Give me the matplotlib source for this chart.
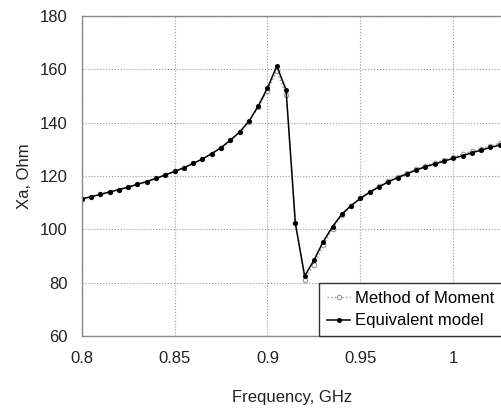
import numpy as np
import matplotlib.pyplot as plt

plt.rcParams['font.family'] = ['Liberation Sans', 'DejaVu Sans']

# frequency points, GHz
freq = [0.800, 0.805, 0.810, 0.815, 0.820, 0.825, 0.830, 0.835, 0.840, 0.845,
        0.850, 0.855, 0.860, 0.865, 0.870, 0.875, 0.880, 0.885, 0.890, 0.895,
        0.900, 0.905, 0.910, 0.915, 0.920, 0.925, 0.930, 0.935, 0.940, 0.945,
        0.950, 0.955, 0.960, 0.965, 0.970, 0.975, 0.980, 0.985, 0.990, 0.995,
        1.000, 1.005, 1.010, 1.015, 1.020, 1.025]

# equivalent model
xa_eq = [111.4, 112.2, 113.1, 114.0, 114.9, 115.8, 116.9, 117.9, 119.1, 120.4,
         121.7, 123.1, 124.7, 126.4, 128.4, 130.6, 133.4, 136.5, 140.5, 146.2,
         153.0, 161.2, 152.3, 102.2, 82.5, 88.4, 95.4, 101.0, 105.7, 108.9,
         111.6, 113.9, 115.9, 117.8, 119.4, 120.8, 122.2, 123.5, 124.5, 125.6,
         126.6, 127.6, 128.7, 129.7, 130.7, 131.6]

# method of moment
xa_mom = [111.4, 112.2, 113.1, 114.0, 114.9, 115.8, 116.9, 117.9, 119.1, 120.4,
          121.7, 123.1, 124.7, 126.4, 128.4, 130.6, 133.4, 136.5, 140.4, 145.8,
          152.0, 159.2, 150.5, 102.5, 81.0, 86.6, 94.0, 100.3, 105.3, 108.7,
          111.7, 114.1, 116.2, 118.1, 119.7, 121.2, 122.6, 123.9, 125.0, 126.1,
          127.1, 128.2, 129.3, 130.3, 131.3, 132.3]

fig = plt.figure(figsize=(5.02, 4.09), dpi=100)
ax = fig.add_axes([0.1627, 0.1785, 0.8373, 0.7824])

ax.plot(freq, xa_mom, color='#999999', linestyle=':', linewidth=1.0,
        marker='o', markersize=3.2, markerfacecolor='white',
        markeredgecolor='#999999', markeredgewidth=0.8, label='Method of Moment')
ax.plot(freq, xa_eq, color='black', linestyle='-', linewidth=1.1,
        marker='o', markersize=2.6, markerfacecolor='black',
        markeredgecolor='black', label='Equivalent model')

ax.set_xlim(0.8, 1.0262)
ax.set_ylim(60, 180)
ax.set_xticks([0.8, 0.85, 0.9, 0.95, 1.0])
ax.set_xticklabels(['0.8', '0.85', '0.9', '0.95', '1'])
ax.set_yticks([60, 80, 100, 120, 140, 160, 180])

ax.grid(True, color='#999999', linestyle=':', linewidth=0.8)
for s in ax.spines.values():
    s.set_color('#888888')
    s.set_linewidth(1.0)
ax.tick_params(axis='both', labelsize=12, colors='#222222', length=0)
ax.tick_params(axis='x', pad=11)
ax.tick_params(axis='y', pad=10)

ax.set_xlabel('Frequency, GHz', fontsize=12, color='#222222', labelpad=17)
ax.set_ylabel('Xa, Ohm', fontsize=12, color='#222222', labelpad=6)

leg = ax.legend(loc='lower right', bbox_to_anchor=(1.0, 0.0), borderaxespad=0,
                fontsize=12, frameon=True, fancybox=False, framealpha=1,
                handlelength=1.4, handletextpad=0.3, borderpad=0.45,
                labelspacing=0.45)
leg.get_frame().set_edgecolor('#333333')
leg.get_frame().set_linewidth(1.0)

fig.savefig('out.png', dpi=100)
